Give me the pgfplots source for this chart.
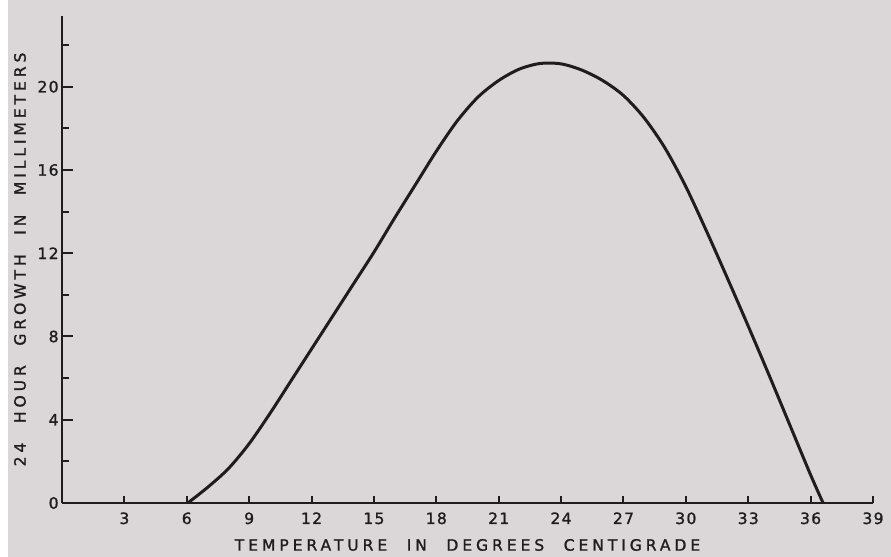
\documentclass[border=0pt]{standalone}
\usepackage{pgfplots}
\pgfplotsset{compat=1.18}
\usepackage{fontspec}
\newfontfamily\lab[LetterSpace=25,WordSpace=2.2,FakeBold=1.2]{DejaVu Sans}
\newfontfamily\num[LetterSpace=8,FakeBold=1.2]{DejaVu Sans}
\definecolor{paper}{HTML}{DBD7D8}
\definecolor{ink}{HTML}{1E1C1D}

\begin{document}
\begin{tikzpicture}
    % background of the scanned sheet (1 px = 0.5pt)
    \fill[paper] (-31pt,-27pt) rectangle (414.5pt,251.5pt);
    \fill[white] (-31pt,-27pt) rectangle (-27pt,251.5pt);
    \begin{axis}[
        scale only axis,
        width=405.5pt,
        height=243.5pt,
        xmin=0, xmax=39,
        ymin=0, ymax=23.4,
        axis lines=left,
        axis line style={-, ink, line width=1pt},
        xtick={3,6,...,39},
        ytick={0,4,...,20},
        minor ytick={2,6,...,22},
        tick align=inside,
        major tick length=3.5pt,
        minor tick length=3.5pt,
        ytick style={/pgfplots/major tick length=5.5pt},
        every tick/.style={ink, line width=1pt},
        /pgf/number format/assume math mode=true,
        tick label style={font=\num\fontsize{7.8}{9}\selectfont, text=ink},
        xticklabel style={anchor=base, yshift=-10.5pt},
        yticklabel style={inner xsep=1.5pt},
        xlabel={TEMPERATURE IN DEGREES CENTIGRADE},
        ylabel={24 HOUR GROWTH IN MILLIMETERS},
        label style={font=\lab\fontsize{7.8}{9}\selectfont, text=ink},
        x label style={at={(axis description cs:0.5,-0.0862)}, anchor=center},
        y label style={at={(axis description cs:-0.0518,0.5)}, anchor=center},
        clip=false
    ]

    % growth curve
    \addplot[ink, line width=1.5pt, smooth, tension=0.5] coordinates {
        (6.05, 0)
        (7, 0.75)
        (8, 1.65)
        (9, 2.85)
        (10, 4.3)
        (11, 5.85)
        (12, 7.4)
        (13, 8.95)
        (14, 10.5)
        (15, 12.05)
        (16, 13.7)
        (17, 15.3)
        (18, 16.9)
        (19, 18.35)
        (20, 19.5)
        (21, 20.3)
        (22, 20.85)
        (23, 21.12)
        (24, 21.1)
        (25, 20.8)
        (26, 20.3)
        (27, 19.58)
        (28, 18.5)
        (29, 17.05)
        (30, 15.2)
        (31, 13.05)
        (32, 10.8)
        (33, 8.5)
        (34, 6.15)
        (35, 3.75)
        (36, 1.35)
        (36.6, 0)
    };

    \end{axis}
    \pgfresetboundingbox
    \useasboundingbox (-31pt,-27pt) rectangle (414.5pt,251.5pt);
\end{tikzpicture}
\end{document}
